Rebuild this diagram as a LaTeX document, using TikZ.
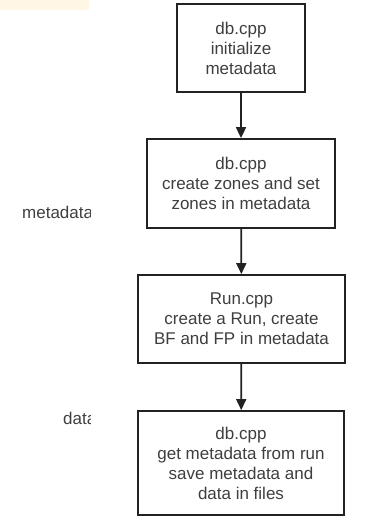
\documentclass[tikz,border=0pt]{standalone}
\usepackage{fontspec}
\setmainfont{Liberation Sans}
\usepackage{tikz}
\usetikzlibrary{arrows.meta, positioning}
\definecolor{boxline}{HTML}{222222}
\definecolor{textgray}{HTML}{3f3f3f}
\definecolor{paleorange}{HTML}{fff6e6}

\tikzset{
  stepbox/.style={draw=boxline, line width=1.8pt, fill=white, align=center, text=textgray,
    font=\fontsize{17}{20}\selectfont, inner sep=0pt},
  flow/.style={-{Triangle[length=11pt, width=10pt]}, line width=1.8pt, boxline},
  sidelabel/.style={anchor=west, text=textgray, font=\fontsize{17}{20}\selectfont, inner sep=0pt}
}

\begin{document}
\begin{tikzpicture}[x=1pt, y=-1pt]
    \useasboundingbox (0,0) rectangle (379,516);
    \fill[paleorange] (0,0) rectangle (89,10);
    % the four steps
    \node[stepbox, minimum width=128pt, minimum height=88pt] (init) at (241,48) {db.cpp\\initialize\\metadata};
    \node[stepbox, minimum width=188pt, minimum height=89pt] (zones) at (241,183.5) {db.cpp\\create zones and set\\zones in metadata};
    \node[stepbox, minimum width=207pt, minimum height=88pt] (run) at (241.5,319) {Run.cpp\\create a Run, create\\BF and FP in metadata};
    \node[stepbox, minimum width=206pt, minimum height=104pt] (save) at (241,463) {db.cpp\\get metadata from run\\save metadata and\\data in files};
    \draw[flow] (init) -- (zones);
    \draw[flow] (zones) -- (run);
    \draw[flow] (run) -- (save);
    % cut-off labels on the left
    \begin{scope}
        \clip (0,0) rectangle (90,516);
        \node[sidelabel] (metalbl) at (22,212) {metadata};
        \node[sidelabel] (datalbl) at (63,418) {data};
    \end{scope}
\end{tikzpicture}
\end{document}
